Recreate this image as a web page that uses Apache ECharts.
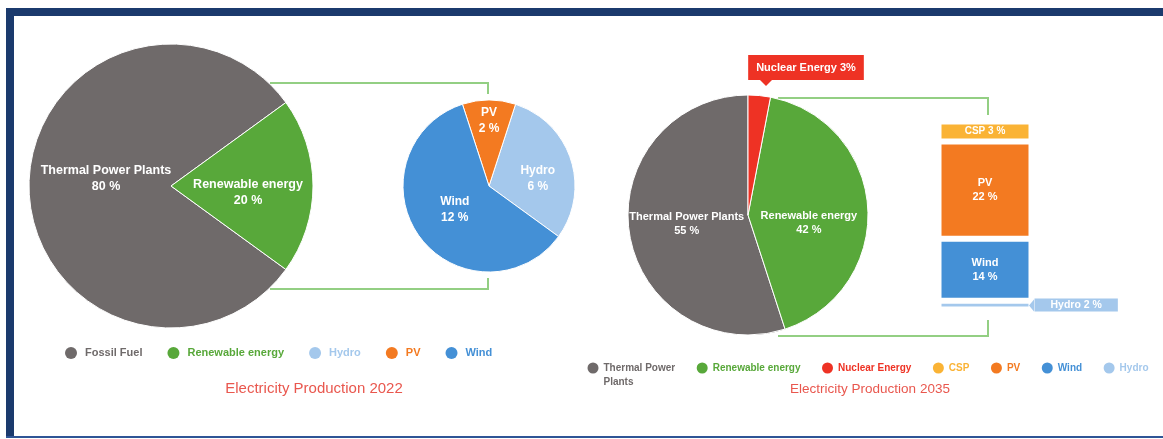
<!DOCTYPE html>
<html><head><meta charset="utf-8">
<script src="https://cdn.jsdelivr.net/npm/echarts@6/dist/echarts.min.js"></script>
<style>html,body{margin:0;padding:0;background:#fff}#c{width:1163px;height:439px}</style>
</head><body><div id="c"></div>
<script>
// ---- data ----
const pie2022Names = ['Fossil Fuel', 'Renewable energy'];
const pie2022Labels = ['Thermal Power Plants', 'Renewable energy'];
const pie2022Values = [80, 20];
const renew2022Names = ['Hydro', 'PV', 'Wind'];
const renew2022Values = [6, 2, 12];
const pie2035Names = ['Thermal Power Plants', 'Renewable energy', 'Nuclear Energy'];
const pie2035Values = [55, 42, 3];
const renew2035Names = ['Hydro', 'Wind', 'PV', 'CSP']; // stacked bottom -> top
const renew2035Values = [2, 14, 22, 3];
const legend2022 = ['Fossil Fuel', 'Renewable energy', 'Hydro', 'PV', 'Wind'];
const legend2035 = ['Thermal Power Plants', 'Renewable energy', 'Nuclear Energy', 'CSP', 'PV', 'Wind', 'Hydro'];
const titles = ['Electricity Production 2022', 'Electricity Production 2035'];

// ---- styles ----
const FONT = "'Liberation Sans', Arial, Helvetica, sans-serif";
const COLORS = {
  'Fossil Fuel': '#6f6a6a', 'Thermal Power Plants': '#6f6a6a',
  'Renewable energy': '#58a83a', 'Nuclear Energy': '#ee3224',
  'Hydro': '#a4c8ec', 'PV': '#f37a21', 'Wind': '#4490d6', 'CSP': '#fab335'
};
const pie1Shift = [[9, -7], [3, 7]];
const pie2Shift = [[5, 7], [0, -19], [3, -3]];
const pie3Shift = [[1, -1], [-2, 12], [-13, -8]];
const GREEN_LINE = '#93cf83';

const chart = echarts.init(document.getElementById('c'), null, {renderer: 'canvas'});

const whiteLabel = (size, lh) => ({
  show: true, position: 'inside', color: '#fff', fontWeight: 'bold',
  fontSize: size, lineHeight: lh, fontFamily: FONT
});

const pie1 = {
  type: 'pie', center: [171, 186], radius: 142, startAngle: -36, clockwise: true,
  avoidLabelOverlap: false, silent: true,
  itemStyle: {borderColor: '#fff', borderWidth: 1},
  label: Object.assign(whiteLabel(12.5, 16), {
    formatter: p => pie2022Labels[p.dataIndex] + '\n' + p.value + ' %'
  }),
  labelLine: {show: false},
  labelLayout: p => ({dx: pie1Shift[p.dataIndex][0], dy: pie1Shift[p.dataIndex][1]}),
  data: pie2022Names.map((n, i) => ({name: n, value: pie2022Values[i], itemStyle: {color: COLORS[n]}}))
};

const pie2 = {
  type: 'pie', center: [489, 186], radius: 86, startAngle: -36, clockwise: false,
  avoidLabelOverlap: false, silent: true,
  itemStyle: {borderColor: '#fff', borderWidth: 1},
  label: Object.assign(whiteLabel(12, 16), {formatter: p => p.name + '\n' + p.value + ' %'}),
  labelLine: {show: false},
  labelLayout: p => ({dx: pie2Shift[p.dataIndex][0], dy: pie2Shift[p.dataIndex][1]}),
  data: renew2022Names.map((n, i) => ({name: n, value: renew2022Values[i], itemStyle: {color: COLORS[n]}}))
};

const pie3 = {
  type: 'pie', center: [748, 215], radius: 120, startAngle: 90, clockwise: false,
  avoidLabelOverlap: false, silent: true,
  itemStyle: {borderColor: '#fff', borderWidth: 1},
  label: Object.assign(whiteLabel(11, 14), {formatter: p => p.name + '\n' + p.value + ' %'}),
  labelLine: {show: false},
  labelLayout: p => ({dx: pie3Shift[p.dataIndex][0], dy: pie3Shift[p.dataIndex][1]}),
  data: pie2035Names.map((n, i) => {
    const d = {name: n, value: pie2035Values[i], itemStyle: {color: COLORS[n]}};
    if (n === 'Nuclear Energy') {
      d.label = {
        position: 'outside', backgroundColor: COLORS[n], padding: [6, 8],
        fontSize: 11, lineHeight: 13, distanceToLabelLine: 0,
        formatter: p => p.name + ' ' + p.value + '%'
      };
      d.labelLine = {show: false, length: 20, length2: 0};
    }
    return d;
  })
};

const barTotal = renew2035Values.reduce((a, b) => a + b, 0);
const bars = renew2035Names.map((n, i) => {
  const s = {
    type: 'bar', name: n, stack: 'r2035', barWidth: '100%', silent: true, clip: false,
    data: [renew2035Values[i]],
    itemStyle: {color: COLORS[n], borderColor: '#fff', borderWidth: 3},
    label: Object.assign(whiteLabel(11, 14), {formatter: p => n + '\n' + p.value + ' %'})
  };
  if (n === 'CSP') {
    s.barMinHeight = 20;
    s.label = Object.assign(whiteLabel(10, 11), {formatter: p => n + ' ' + p.value + ' %'});
  }
  if (n === 'Hydro') {
    s.label = Object.assign(whiteLabel(10.5, 12), {
      position: 'right', distance: 3, backgroundColor: COLORS[n],
      padding: [1, 16, 0, 16], formatter: p => n + ' ' + p.value + ' %'
    });
  }
  return s;
});

const legendText = {fontSize: 11, fontWeight: 'bold', fontFamily: FONT};

const option = {
  animation: false,
  backgroundColor: '#fff',
  title: [
    {text: titles[0], left: 314, top: 381, textAlign: 'center', padding: 0,
     textStyle: {color: '#e9574e', fontSize: 15, fontWeight: 'normal', fontFamily: FONT}},
    {text: titles[1], left: 870, top: 382, textAlign: 'center', padding: 0,
     textStyle: {color: '#e9574e', fontSize: 13.5, fontWeight: 'normal', fontFamily: FONT}}
  ],
  legend: [
    {data: legend2022.map(n => ({name: n, textStyle: {color: COLORS[n]}})),
     left: 65, top: 347, padding: 0, icon: 'circle', itemWidth: 18, itemHeight: 12, itemGap: 25,
     itemStyle: {borderWidth: 0},
     selectedMode: false, textStyle: legendText},
    {data: legend2035.map(n => ({name: n, textStyle: {color: COLORS[n]}})),
     formatter: n => n === 'Thermal Power Plants' ? ' \nThermal Power\nPlants' : n,
     left: 587.5, top: 347, padding: 0, icon: 'circle', itemWidth: 11, itemHeight: 11, itemGap: 21.5,
     itemStyle: {borderWidth: 0},
     selectedMode: false, textStyle: {fontSize: 10, lineHeight: 14, fontWeight: 'bold', fontFamily: FONT}}
  ],
  grid: {left: 938.5, top: 128.2, width: 93, height: 181.3},
  xAxis: {type: 'category', data: ['2035'], show: false},
  yAxis: {type: 'value', min: 0, max: barTotal, show: false},
  series: [pie1, pie2, pie3].concat(bars),
  graphic: [
    // frame
    {type: 'rect', silent: true, shape: {x: 6, y: 8, width: 1157, height: 8}, style: {fill: '#1b3a6d'}},
    {type: 'rect', silent: true, shape: {x: 6, y: 8, width: 8, height: 430}, style: {fill: '#1b3a6d'}},
    {type: 'rect', silent: true, shape: {x: 6, y: 436, width: 1157, height: 2}, style: {fill: '#2f5596'}},
    // connectors 2022
    {type: 'polyline', silent: true, shape: {points: [[270, 83], [488, 83], [488, 94]]},
     style: {stroke: GREEN_LINE, lineWidth: 2, fill: null}},
    {type: 'polyline', silent: true, shape: {points: [[270, 289], [488, 289], [488, 278]]},
     style: {stroke: GREEN_LINE, lineWidth: 2, fill: null}},
    // connectors 2035
    {type: 'polyline', silent: true, shape: {points: [[778, 98], [988, 98], [988, 115]]},
     style: {stroke: GREEN_LINE, lineWidth: 2, fill: null}},
    {type: 'polyline', silent: true, shape: {points: [[778, 336], [988, 336], [988, 320]]},
     style: {stroke: GREEN_LINE, lineWidth: 2, fill: null}},
    // callout pointers
    {type: 'polygon', silent: true, z: 100, shape: {points: [[759, 79], [773, 79], [766, 86]]},
     style: {fill: COLORS['Nuclear Energy']}},
    {type: 'polygon', silent: true, z: 100, shape: {points: [[1034, 299.5], [1034, 311.5], [1029, 305.5]]},
     style: {fill: COLORS['Hydro']}}
  ]
};
chart.setOption(option);
</script>
</body></html>
